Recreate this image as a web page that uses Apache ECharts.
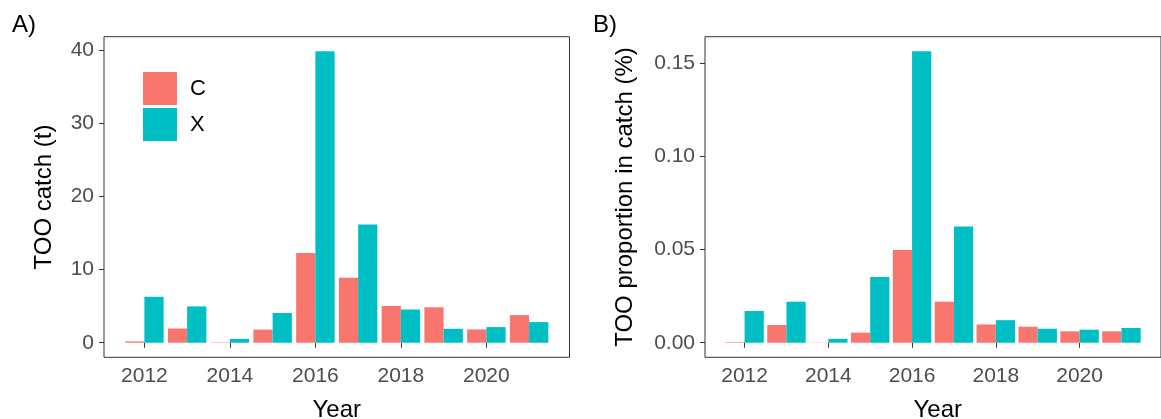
<!DOCTYPE html>
<html>
<head>
<meta charset="utf-8">
<script src="https://cdn.jsdelivr.net/npm/echarts@6/dist/echarts.min.js"></script>
<style>
html,body{margin:0;padding:0;background:#fff;}
#c{width:1161px;height:419px;}
</style>
</head>
<body>
<div id="c"></div>
<script>
// ---- data ----
const years = [2012, 2013, 2014, 2015, 2016, 2017, 2018, 2019, 2020, 2021];
const catchC = [0.18, 1.95, 0.05, 1.8, 12.3, 8.9, 5.03, 4.85, 1.82, 3.78];
const catchX = [6.29, 4.97, 0.52, 4.07, 39.9, 16.17, 4.55, 1.91, 2.14, 2.82];
const propC = [0.0003, 0.0095, 0.0001, 0.0054, 0.0497, 0.0220, 0.0098, 0.0086, 0.0061, 0.0061];
const propX = [0.0170, 0.0220, 0.0021, 0.0352, 0.1563, 0.0623, 0.0121, 0.0075, 0.0070, 0.0079];
const xTicks = [2012, 2014, 2016, 2018, 2020];
const catchTicks = [0, 10, 20, 30, 40];
const propTicks = [0, 0.05, 0.10, 0.15];
const seriesNames = ['C', 'X'];

// ---- layout ----
const FONT = 'Liberation Sans, Arial, sans-serif';
const colC = '#F8766D', colX = '#00BFC4';
const gridTop = 36.7, gridH = 320.6, gridW = 465.5;
const gA = 104, gB = 705;
const xMin = 2011.055, xMax = 2021.945;
const pxPerYear = gridW / (xMax - xMin);
const barW = 0.45 * pxPerYear;

function expand(maxV) { return [-0.05 * maxV, 1.05 * maxV]; }
const rA = expand(Math.max(...catchX));
const rB = expand(Math.max(...propX));

function pairs(vals) { return years.map((y, i) => [y, vals[i]]); }

function xAxis(idx) {
  return {
    type: 'value', gridIndex: idx, min: xMin, max: xMax,
    axisLine: { show: false },
    splitLine: { show: false },
    axisTick: { show: true, length: 5, lineStyle: { color: '#333', width: 1 }, customValues: xTicks },
    axisLabel: { color: '#4D4D4D', fontSize: 21, fontFamily: FONT, margin: 8, customValues: xTicks,
      formatter: v => String(Math.round(v)) }
  };
}
function yAxis(idx, r, ticks, fmt) {
  return {
    type: 'value', gridIndex: idx, min: r[0], max: r[1],
    axisLine: { show: false },
    splitLine: { show: false },
    axisTick: { show: true, length: 5, lineStyle: { color: '#333', width: 1 }, customValues: ticks },
    axisLabel: { color: '#4D4D4D', fontSize: 21, fontFamily: FONT, margin: 10, customValues: ticks,
      formatter: fmt }
  };
}
function bar(name, vals, idx, color) {
  return {
    type: 'bar', name: name, xAxisIndex: idx, yAxisIndex: idx,
    data: pairs(vals), barWidth: barW, barGap: '0%',
    itemStyle: { color: color }, animation: false
  };
}

const chart = echarts.init(document.getElementById('c'), null, { renderer: 'canvas' });
chart.setOption({
  animation: false,
  backgroundColor: '#fff',
  grid: [
    { left: gA, top: gridTop, width: gridW, height: gridH, show: true, borderColor: '#333', borderWidth: 1, backgroundColor: 'transparent' },
    { left: gB, top: gridTop, width: gridW, height: gridH, show: true, borderColor: '#333', borderWidth: 1, backgroundColor: 'transparent' }
  ],
  xAxis: [xAxis(0), xAxis(1)],
  yAxis: [
    yAxis(0, rA, catchTicks, v => String(Math.round(v))),
    yAxis(1, rB, propTicks, v => v.toFixed(2))
  ],
  legend: {
    data: seriesNames, orient: 'vertical', left: 138, top: 67,
    itemWidth: 34, itemHeight: 33, itemGap: 3, icon: 'rect',
    textStyle: { color: '#000', fontSize: 22, fontFamily: FONT, padding: [0, 0, 0, 8] },
    selectedMode: false
  },
  series: [
    bar(seriesNames[0], catchC, 0, colC),
    bar(seriesNames[1], catchX, 0, colX),
    bar(seriesNames[0], propC, 1, colC),
    bar(seriesNames[1], propX, 1, colX)
  ],
  graphic: [
    { type: 'text', left: 12, top: 13, style: { text: 'A)', font: '24px ' + FONT, fill: '#000' } },
    { type: 'text', left: 593, top: 13, style: { text: 'B)', font: '24px ' + FONT, fill: '#000' } },
    { type: 'text', x: gA + gridW / 2, y: 410, style: { text: 'Year', font: '24px ' + FONT, fill: '#000', textAlign: 'center', textVerticalAlign: 'middle' } },
    { type: 'text', x: gB + gridW / 2, y: 410, style: { text: 'Year', font: '24px ' + FONT, fill: '#000', textAlign: 'center', textVerticalAlign: 'middle' } },
    { type: 'text', x: 44, y: gridTop + gridH / 2, rotation: Math.PI / 2, style: { text: 'TOO catch (t)', font: '24px ' + FONT, fill: '#000', textAlign: 'center', textVerticalAlign: 'middle' } },
    { type: 'text', x: 625, y: gridTop + gridH / 2, rotation: Math.PI / 2, style: { text: 'TOO proportion in catch (%)', font: '24px ' + FONT, fill: '#000', textAlign: 'center', textVerticalAlign: 'middle' } }
  ]
});
</script>
</body>
</html>
